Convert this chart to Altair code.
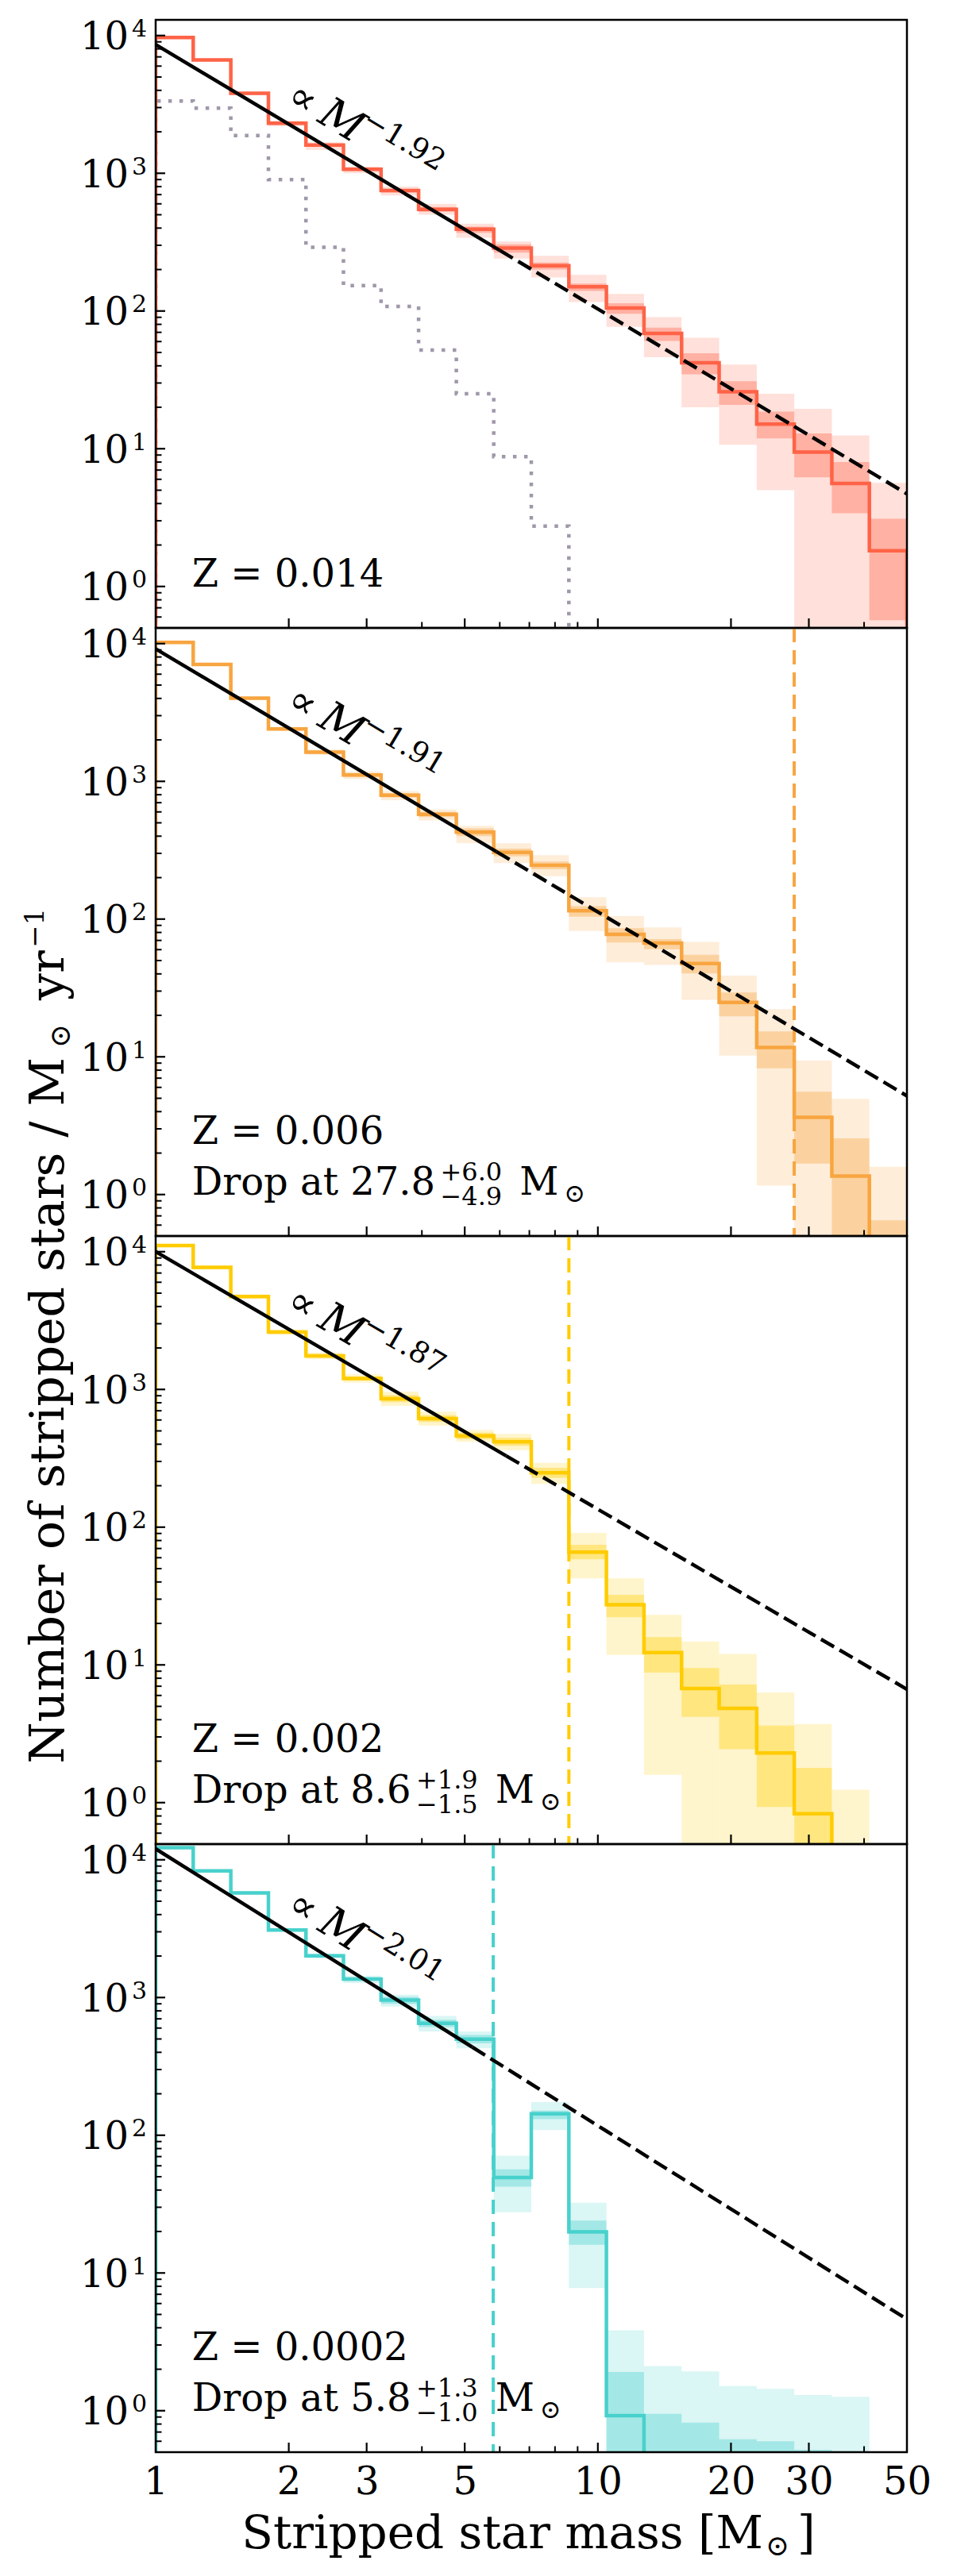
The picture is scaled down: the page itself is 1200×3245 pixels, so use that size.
import math
import altair as alt
import pandas as pd

FONT = "DejaVu Serif"
W, H = 946, 766
X_DOMAIN = [1, 50]
Y_DOMAIN = [0.5, 13000]
FLOOR = 1e-3

# ---------------- data ----------------
BIN_EDGES = [1.0, 1.216, 1.479, 1.799, 2.187, 2.659, 3.234, 3.932, 4.786, 5.815,
             7.071, 8.599, 10.456, 12.715, 15.466, 18.806, 22.872, 27.806, 33.816,
             41.117, 50.0]

# Z = 0.014
Z014_VAL = [9690, 6640, 3806, 2311, 1603, 1069, 750, 547, 392, 286, 213, 150, 105,
            68.7, 42.1, 25.9, 15.1, 9.44, 5.6, 1.82]
Z014_OUT_LO = [9450, 6450, 3700, 2200, 1480, 1000, 690, 500, 340, 240, 175, 116, 76.7,
               46.1, 20, 10.7, 5.0, 0, 0, 0]
Z014_OUT_HI = [9900, 6800, 3900, 2400, 1680, 1120, 800, 600, 430, 320, 252, 183, 133,
               90.4, 64, 40.8, 25.1, 19.5, 12.5, 5.66]
Z014_IN_LO = [9580, 6560, 3760, 2270, 1560, 1045, 725, 525, 370, 265, 200, 140, 95.5,
              60.7, 34.7, 20.8, 11.9, 6.2, 3.4, 0.57]
Z014_IN_HI = [9800, 6720, 3850, 2350, 1640, 1090, 770, 570, 410, 305, 225, 158, 114,
              75.7, 49.3, 30.9, 18.6, 12.9, 8.0, 3.1]
# single stars (grey dotted), Z = 0.014
SINGLE_VAL = [3350, 2970, 1880, 900, 290, 153, 108, 52, 25.1, 8.77, 2.74]

# Z = 0.006
Z006_VAL = [10200, 7070, 4010, 2400, 1627, 1111, 792, 576, 428, 305, 246, 115, 77.4,
            67, 47.5, 24.8, 11.7, 3.64, 1.36, 0]
Z006_OUT_LO = [10000, 6900, 3900, 2320, 1560, 1040, 730, 520, 355, 255, 205, 82, 48.5,
               46.5, 25.9, 10.2, 1.16, 0, 0, 0]
Z006_OUT_HI = [10400, 7250, 4120, 2480, 1700, 1180, 850, 625, 475, 355, 291, 144, 105,
               87, 68.4, 38.9, 22.2, 9.4, 4.95, 1.59]
Z006_IN_LO = [10100, 7000, 3950, 2360, 1595, 1080, 765, 550, 400, 285, 230, 104, 67.7,
              60.5, 40.3, 19.7, 8.24, 1.68, 0, 0]
Z006_IN_HI = [10300, 7150, 4070, 2440, 1660, 1140, 820, 600, 455, 325, 262, 124, 86,
              71.6, 55, 29.3, 15.3, 5.58, 2.56, 0.65]

# Z = 0.002
Z002_VAL = [11100, 7700, 4720, 2610, 1750, 1200, 857, 615, 460, 416, 248, 65.9, 27.3,
            12.3, 6.74, 4.84, 2.29, 0.83, 0, 0]
Z002_OUT_LO = [10800, 7450, 4550, 2500, 1660, 1120, 760, 545, 416, 363, 206, 42.5, 11.8,
               1.59, 0, 0, 0, 0, 0, None]
Z002_OUT_HI = [11400, 7950, 4900, 2720, 1850, 1290, 965, 690, 509, 476, 293, 91, 42.5,
               23.1, 14.8, 12.0, 6.3, 3.72, 1.24, None]
Z002_IN_LO = [10950, 7580, 4630, 2560, 1700, 1160, 810, 580, 435, 390, 228, 58.5, 22.2,
              8.8, 4.19, 2.44, 0.93, 0, None, None]
Z002_IN_HI = [11250, 7820, 4810, 2660, 1800, 1240, 910, 650, 485, 445, 270, 74.5, 32.3,
              15.9, 9.5, 7.2, 3.63, 1.79, None, None]

# Z = 0.0002
Z0002_VAL = [12250, 8300, 5740, 3090, 2010, 1364, 957, 649, 498, 49.4, 143, 19.9, 0.92,
             0, 0, 0, 0, 0, 0, 0]
Z0002_OUT_LO = [11950, 8100, 5600, 3000, 1930, 1276, 858, 568, 428, 27.6, 109, 7.78, 0,
                0, 0, 0, 0, 0, 0, None]
Z0002_OUT_HI = [12550, 8500, 5880, 3180, 2080, 1440, 1047, 735, 568, 71, 174, 32.4, 3.83,
                2.11, 1.93, 1.51, 1.44, 1.3, 1.26, None]
Z0002_IN_LO = [12100, 8200, 5670, 3040, 1970, 1320, 900, 610, 465, 42.4, 131, 16, 0,
               0, 0, 0, 0, 0, None, None]
Z0002_IN_HI = [12400, 8400, 5810, 3140, 2050, 1400, 1010, 690, 535, 56.5, 151, 24, 1.91,
               0.95, 0.82, 0.62, 0.6, 0.52, None, None]

SERIES = [
    (Z014_VAL, Z014_OUT_LO, Z014_OUT_HI, Z014_IN_LO, Z014_IN_HI),
    (Z006_VAL, Z006_OUT_LO, Z006_OUT_HI, Z006_IN_LO, Z006_IN_HI),
    (Z002_VAL, Z002_OUT_LO, Z002_OUT_HI, Z002_IN_LO, Z002_IN_HI),
    (Z0002_VAL, Z0002_OUT_LO, Z0002_OUT_HI, Z0002_IN_LO, Z0002_IN_HI),
]

Z_LABELS = ["Z = 0.014", "Z = 0.006", "Z = 0.002", "Z = 0.0002"]
COLORS = ["#FF6347", "#F8A540", "#FFCC00", "#48D1CC"]
GREY = "#A098AA"
FIT_AMP = [8600, 9150, 10000, 12000]
FIT_SLOPE = [1.92, 1.91, 1.87, 2.01]
FIT_SOLID_END = [6.0, 5.9, 6.2, 5.2]
DROP_MASS = [None, 27.8, 8.6, 5.8]
DROP_TEXT = [None, "Drop at 27.8", "Drop at 8.6", "Drop at 5.8"]
DROP_PLUS = [None, "+6.0", "+1.9", "+1.3"]
DROP_MINUS = [None, "\u22124.9", "\u22121.5", "\u22121.0"]

X_LABEL_VALUES = [1, 2, 3, 5, 10, 20, 30, 50]
X_MAJOR_TICKS = [2, 3, 5, 10, 20, 30]
X_MINOR_TICKS = [4, 6, 7, 8, 9, 40]
Y_MAJOR_TICKS = [1, 10, 100, 1000, 10000]
Y_TICK_EXP = ["0", "1", "2", "3", "4"]
Y_MINOR_TICKS = [0.5, 0.6, 0.7, 0.8, 0.9, 2, 3, 4, 5, 6, 7, 8, 9,
                 20, 30, 40, 50, 60, 70, 80, 90, 200, 300, 400, 500, 600, 700, 800, 900,
                 2000, 3000, 4000, 5000, 6000, 7000, 8000, 9000]

# ---------------- layout helpers ----------------
EM = {" ": 0.318, ".": 0.318, "D": 0.770, "r": 0.478, "o": 0.602, "p": 0.640,
      "a": 0.596, "t": 0.402, "+": 0.838, "\u2212": 0.838}


def text_w(s, size):
    return sum(EM.get(c, 0.636) for c in s) * size


def step_df(vals):
    xs, ys = [BIN_EDGES[0]], [FLOOR]
    for k, v in enumerate(vals):
        vv = v if v and v > 0 else FLOOR
        xs += [BIN_EDGES[k], BIN_EDGES[k + 1]]
        ys += [vv, vv]
    xs.append(BIN_EDGES[len(vals)])
    ys.append(FLOOR)
    return pd.DataFrame({"x": xs, "y": ys, "i": list(range(len(xs)))})


def band_df(lo, hi):
    rows = []
    for k, (a, b) in enumerate(zip(lo, hi)):
        if a is None or b is None:
            continue
        rows.append({"x0": BIN_EDGES[k], "x1": BIN_EDGES[k + 1],
                     "lo": max(a, FLOOR), "hi": b})
    return pd.DataFrame(rows)


def one(text):
    return pd.DataFrame({"t": [text]})


def ptext(text, x, y, size, **kw):
    return alt.Chart(one(text)).mark_text(
        font=FONT, fontSize=size, color="black", baseline="alphabetic",
        align=kw.pop("align", "left"), **kw
    ).encode(x=alt.value(x), y=alt.value(y), text="t:N")


PX_PER_DEC_X = W / math.log10(X_DOMAIN[1] / X_DOMAIN[0])
PX_PER_DEC_Y = H / math.log10(Y_DOMAIN[1] / Y_DOMAIN[0])
ANNOT_MASS = 1.9


def build_panel(i):
    color = COLORS[i]
    bottom = i == 3
    xs = alt.Scale(type="log", domain=X_DOMAIN)
    ys = alt.Scale(type="log", domain=Y_DOMAIN)
    if bottom:
        xaxis = alt.Axis(values=X_LABEL_VALUES, format="~g", title=None,
                         labelFont=FONT, labelFontSize=48, labelColor="black",
                         labelPadding=14, labelOverlap=False, labelFlush=False,
                         ticks=False, tickSize=0, domain=False, grid=False)
    else:
        xaxis = None

    def X(f):
        return alt.X(f"{f}:Q", scale=xs, axis=xaxis)

    def Y(f):
        return alt.Y(f"{f}:Q", scale=ys, axis=None)

    vals, olo, ohi, ilo, ihi = SERIES[i]
    layers = []
    layers.append(alt.Chart(band_df(olo, ohi)).mark_rect(
        clip=True, color=color, opacity=0.2, strokeWidth=0
    ).encode(x=X("x0"), x2="x1", y=Y("lo"), y2="hi"))
    layers.append(alt.Chart(band_df(ilo, ihi)).mark_rect(
        clip=True, color=color, opacity=0.375, strokeWidth=0
    ).encode(x=X("x0"), x2="x1", y=Y("lo"), y2="hi"))

    if DROP_MASS[i]:
        layers.append(alt.Chart(pd.DataFrame({"m": [DROP_MASS[i]]})).mark_rule(
            clip=True, color=color, strokeWidth=4, strokeDash=[18, 10]
        ).encode(x=X("m")))

    if i == 0:
        layers.append(alt.Chart(step_df(SINGLE_VAL)).mark_line(
            clip=True, color=GREY, strokeWidth=4.5, strokeDash=[4.5, 9.5],
            strokeCap="butt", strokeJoin="miter"
        ).encode(x=X("x"), y=Y("y"), order="i:Q"))

    layers.append(alt.Chart(step_df(vals)).mark_line(
        clip=True, color=color, strokeWidth=4.5, strokeJoin="miter", strokeCap="butt"
    ).encode(x=X("x"), y=Y("y"), order="i:Q"))

    amp, slope, mid = FIT_AMP[i], FIT_SLOPE[i], FIT_SOLID_END[i]
    solid = pd.DataFrame({"x": [X_DOMAIN[0], mid],
                          "y": [amp * X_DOMAIN[0] ** -slope, amp * mid ** -slope]})
    dashed = pd.DataFrame({"x": [mid, X_DOMAIN[1]],
                           "y": [amp * mid ** -slope, amp * X_DOMAIN[1] ** -slope]})
    layers.append(alt.Chart(solid).mark_line(clip=True, color="black", strokeWidth=4.5)
                  .encode(x=X("x"), y=Y("y")))
    layers.append(alt.Chart(dashed).mark_line(
        clip=True, color="black", strokeWidth=4.5, strokeDash=[19, 8], strokeCap="butt"
    ).encode(x=X("x"), y=Y("y")))

    # rotated power-law label
    ang = math.degrees(math.atan(slope * PX_PER_DEC_Y / PX_PER_DEC_X))
    anchor = pd.DataFrame({"x": [ANNOT_MASS], "y": [amp * ANNOT_MASS ** -slope],
                           "a": ["\u221d"], "m": ["M"], "e": [f"\u2212{slope:.2f}"]})
    for field, size, dx, dy, style in [("a", 50, -4, -21, "normal"),
                                       ("m", 54, 42, -21, "italic"),
                                       ("e", 37, 93, -45, "normal")]:
        layers.append(alt.Chart(anchor).mark_text(
            font=FONT, fontSize=size, fontStyle=style, color="black", angle=ang,
            align="left", baseline="alphabetic", dx=dx, dy=dy
        ).encode(x=X("x"), y=Y("y"), text=f"{field}:N"))

    # text annotations
    if DROP_MASS[i]:
        base = H - 52
        layers.append(ptext(Z_LABELS[i], 45.7, H - 116, 48))
        layers.append(ptext(DROP_TEXT[i], 45.7, base, 48))
        sx = 45.7 + text_w(DROP_TEXT[i], 48) + 8
        layers.append(ptext(DROP_PLUS[i], sx, base - 18.3, 32))
        layers.append(ptext(DROP_MINUS[i], sx, base + 13.3, 32))
        mx = sx + text_w(DROP_PLUS[i], 32) + 22
        layers.append(ptext("M", mx, base, 48))
        layers.append(ptext("\u2299", mx + 56, base + 9, 32))
    else:
        layers.append(ptext(Z_LABELS[i], 45.7, H - 52, 48))

    # y axis title (hosted by panel 2)
    if i == 1:
        layers.append(ptext("Number of stripped stars / M", -116, 541, 60,
                            align="right", angle=270))
        layers.append(ptext("\u2299", -116, 529, 36, angle=270, dy=8))
        layers.append(ptext("yr", -116, 469, 60, angle=270))
        layers.append(ptext("\u22121", -116, 403, 34, angle=270, dy=-25))
    # x axis title (hosted by bottom panel)
    if bottom:
        layers.append(ptext("Stripped star mass [M", 765, 887, 58, align="right"))
        layers.append(ptext("\u2299", 768, 887 + 9, 36))
        layers.append(ptext("]", 808, 887, 58))

    # y tick labels
    ylab = pd.DataFrame({"t": Y_MAJOR_TICKS, "b": ["10"] * len(Y_MAJOR_TICKS),
                         "e": Y_TICK_EXP})
    layers.append(alt.Chart(ylab).mark_text(
        font=FONT, fontSize=48, color="black", align="right", baseline="alphabetic", dy=17.5
    ).encode(y=Y("t"), x=alt.value(-34), text="b:N"))
    layers.append(alt.Chart(ylab).mark_text(
        font=FONT, fontSize=30, color="black", align="right", baseline="alphabetic", dy=1.4
    ).encode(y=Y("t"), x=alt.value(-11), text="e:N"))

    # inward ticks
    layers.append(alt.Chart(pd.DataFrame({"t": Y_MAJOR_TICKS})).mark_rule(
        color="black", strokeWidth=2.2).encode(y=Y("t"), x=alt.value(0), x2=alt.value(12)))
    layers.append(alt.Chart(pd.DataFrame({"t": Y_MINOR_TICKS})).mark_rule(
        color="black", strokeWidth=2.0).encode(y=Y("t"), x=alt.value(0), x2=alt.value(7.5)))
    layers.append(alt.Chart(pd.DataFrame({"t": X_MAJOR_TICKS})).mark_rule(
        color="black", strokeWidth=2.2).encode(x=X("t"), y=alt.value(H), y2=alt.value(H - 12)))
    layers.append(alt.Chart(pd.DataFrame({"t": X_MINOR_TICKS})).mark_rule(
        color="black", strokeWidth=2.0).encode(x=X("t"), y=alt.value(H), y2=alt.value(H - 7.5)))

    # frame
    layers.append(alt.Chart(one("f")).mark_rect(
        fillOpacity=0, stroke="black", strokeWidth=2.5
    ).encode(x=alt.value(0), x2=alt.value(W), y=alt.value(0), y2=alt.value(H)))

    return alt.layer(*layers).properties(width=W, height=H)


chart = alt.vconcat(*[build_panel(i) for i in range(4)], spacing=0, bounds="flush").properties(
    padding={"left": 20, "top": 14, "right": 10, "bottom": 5}
).configure_view(stroke=None)

chart.save("out.html", embed_options={"renderer": "svg", "actions": False})
